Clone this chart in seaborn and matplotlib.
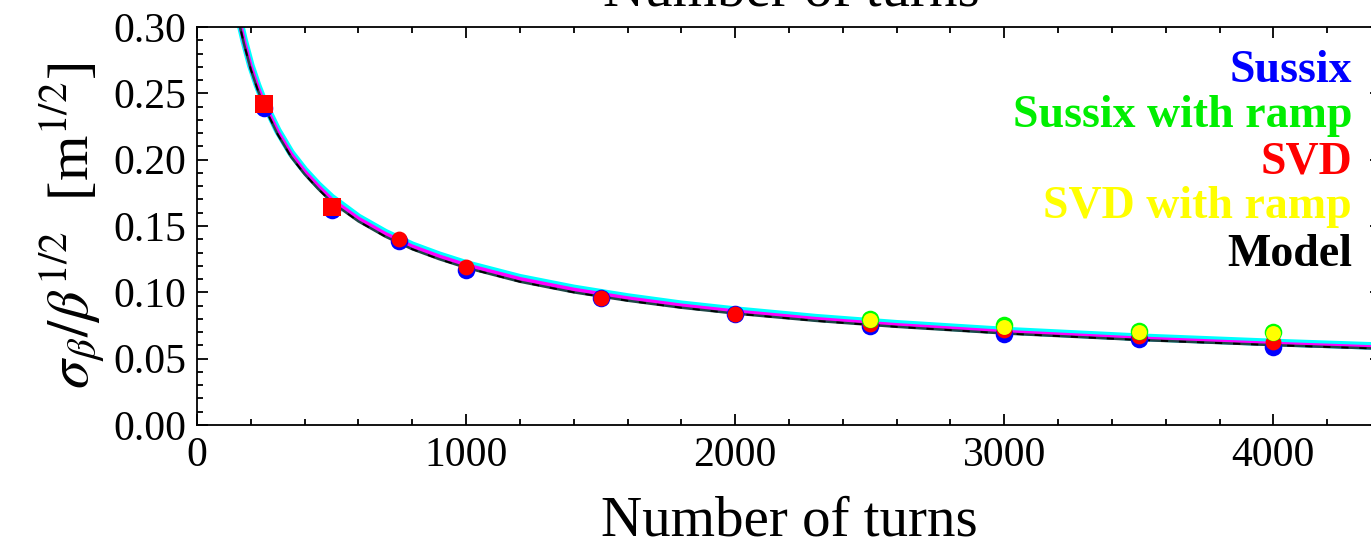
import matplotlib
matplotlib.use("Agg")
import matplotlib.pyplot as plt
from matplotlib.ticker import MultipleLocator, FormatStrFormatter
import seaborn as sns
import pandas as pd

# ---- data ----
turns = [250, 500, 750, 1000, 1500, 2000, 2500, 3000, 3500, 4000]
sussix = [0.239, 0.162, 0.139, 0.117, 0.0955, 0.0835, 0.0745, 0.0685, 0.065, 0.059]
svd = [0.242, 0.164, 0.140, 0.119, 0.096, 0.084, 0.0758, 0.0715, 0.067, 0.0625]

ramp_turns = [2500, 3000, 3500, 4000]
sussix_ramp = [0.0800, 0.0752, 0.0708, 0.0700]
svd_ramp = [0.0790, 0.0742, 0.0700, 0.0690]

model_turns = [150, 160, 175, 200, 225, 250, 300, 350, 400, 450, 500, 600, 700,
               800, 900, 1000, 1200, 1400, 1600, 1800, 2000, 2300, 2600, 3000,
               3500, 4000, 4400]
fit_cyan = [0.313, 0.303, 0.290, 0.271, 0.256, 0.243, 0.222, 0.205, 0.192, 0.181,
            0.1715, 0.1565, 0.145, 0.1355, 0.128, 0.1215, 0.111, 0.103, 0.0965,
            0.091, 0.0866, 0.0809, 0.0763, 0.0712, 0.0662, 0.0622, 0.0594]
fit_magenta = [0.312, 0.302, 0.289, 0.270, 0.255, 0.242, 0.221, 0.204, 0.191, 0.180,
               0.170, 0.1555, 0.144, 0.1345, 0.127, 0.1205, 0.110, 0.102, 0.0955,
               0.0900, 0.0856, 0.0799, 0.0753, 0.0702, 0.0652, 0.0612, 0.0584]
model_black = [0.310, 0.300, 0.287, 0.268, 0.253, 0.240, 0.219, 0.202, 0.189, 0.178,
               0.168, 0.1535, 0.142, 0.1325, 0.125, 0.1185, 0.108, 0.100, 0.0937,
               0.0884, 0.0840, 0.0785, 0.0740, 0.0690, 0.0641, 0.0602, 0.0575]

legend_labels = ["Sussix", "Sussix with ramp", "SVD", "SVD with ramp", "Model"]
legend_colors = ["#0000ff", "#00ee00", "#ff0000", "#ffff00", "#000000"]

# ---- style ----
sns.set_theme(style="ticks")
plt.rcParams["font.family"] = ["Liberation Serif", "DejaVu Serif"]
plt.rcParams["mathtext.fontset"] = "stix"
plt.rcParams["text.color"] = "black"
plt.rcParams["axes.labelcolor"] = "black"

W, H = 1371, 545
fig = plt.figure(figsize=(W / 100, H / 100), dpi=100)
ax_left, ax_right, ax_top, ax_bottom = 197, 1381, 27, 425
ax = fig.add_axes([ax_left / W, (H - ax_bottom) / H,
                   (ax_right - ax_left) / W, (ax_bottom - ax_top) / H])

df_model = pd.DataFrame({"N": model_turns, "cyan": fit_cyan,
                         "magenta": fit_magenta, "black": model_black})
sns.lineplot(data=df_model, x="N", y="cyan", ax=ax, color="#00ffff", lw=5.5,
             solid_capstyle="butt")
sns.lineplot(data=df_model, x="N", y="magenta", ax=ax, color="#ff00ff", lw=3.0)
sns.lineplot(data=df_model, x="N", y="black", ax=ax, color="#1e4646", lw=1.8)
sns.lineplot(data=df_model, x="N", y="black", ax=ax, color="#000000", lw=1.3,
             linestyle=(0, (4, 6)))

df = pd.DataFrame({"N": turns, "sussix": sussix, "svd": svd})
sns.scatterplot(data=df, x="N", y="sussix", ax=ax, color="#0000ff", s=160,
                marker="o", linewidth=0, zorder=5)
sns.scatterplot(data=df.iloc[:2], x="N", y="svd", ax=ax, color="#ff0000", s=170,
                marker="s", linewidth=0, zorder=6)
sns.scatterplot(data=df.iloc[2:], x="N", y="svd", ax=ax, color="#ff0000", s=130,
                marker="o", linewidth=0, zorder=6)
df_r = pd.DataFrame({"N": ramp_turns, "sr": sussix_ramp, "vr": svd_ramp})
sns.scatterplot(data=df_r, x="N", y="sr", ax=ax, color="#00ff00", s=160,
                marker="o", linewidth=0, zorder=7)
sns.scatterplot(data=df_r, x="N", y="vr", ax=ax, color="#ffff00", s=115,
                marker="o", linewidth=0, zorder=8)

# ---- axes ----
ax.set_xlim(0, 4400)
ax.set_ylim(0, 0.30)
ax.xaxis.set_major_locator(MultipleLocator(1000))
ax.xaxis.set_minor_locator(MultipleLocator(200))
ax.yaxis.set_major_locator(MultipleLocator(0.05))
ax.yaxis.set_minor_locator(MultipleLocator(0.01))
ax.yaxis.set_major_formatter(FormatStrFormatter("%.2f"))
ax.tick_params(which="both", direction="in", top=True, right=True,
               labelsize=30, width=1.3, color="black", labelcolor="black")
ax.tick_params(which="major", length=8, pad=8)
ax.tick_params(which="minor", length=4.5)
for sp in ax.spines.values():
    sp.set_linewidth(1.3)
    sp.set_color("black")

ax.set_xlabel("Number of turns", fontsize=41, labelpad=15)
ax.set_ylabel(r"$\sigma_\beta/\beta^{1/2}$  [m$^{1/2}$]", fontsize=42, labelpad=4)

# cropped duplicate title at the very top
fig.text(791 / W, 1 - 6 / H, "Number of turns", fontsize=41, ha="center",
         va="baseline")

# coloured text legend
baselines = [82, 127, 173, 218, 266]
for lab, col, yb in zip(legend_labels, legend_colors, baselines):
    fig.text(1352 / W, 1 - yb / H, lab, color=col, fontsize=33,
             fontweight="bold", ha="right", va="baseline", zorder=10)

fig.savefig("out.png", dpi=100)
